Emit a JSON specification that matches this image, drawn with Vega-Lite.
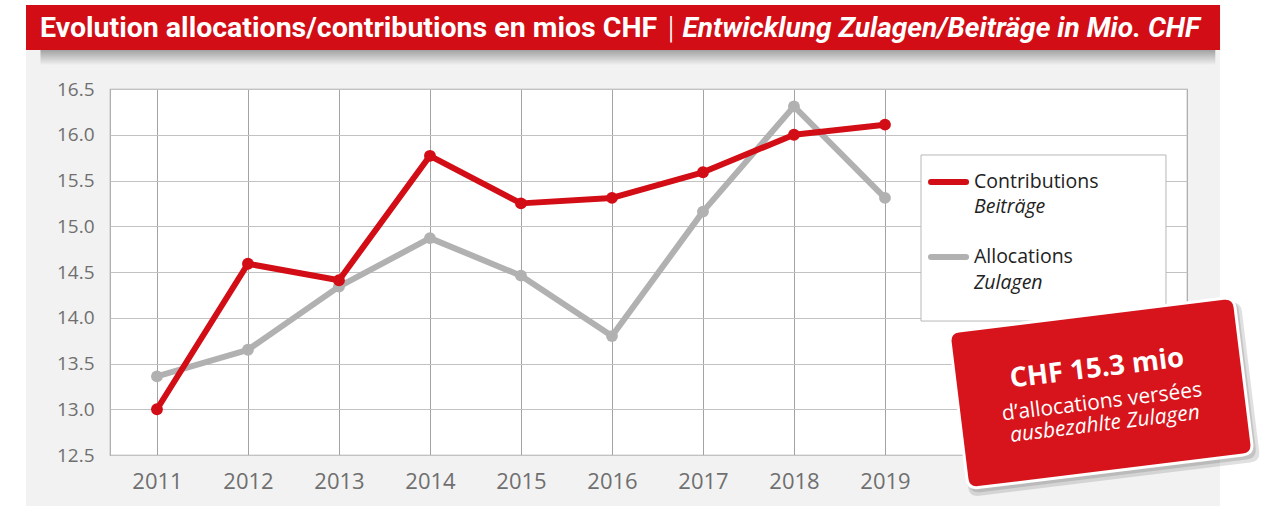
{
  "$schema": "https://vega.github.io/schema/vega-lite/v6.json",
  "autosize": {"type": "none"},
  "width": 1077,
  "height": 366,
  "padding": {"left": 110, "top": 89, "right": 74, "bottom": 51},
  "background": "#f2f2f2",
  "config": {"view": {"fill": "white", "stroke": "#a8a8a8", "strokeWidth": 1.2}, "font": "Open Sans"},
  "layer": [
    {
      "data": {"values": [{}]},
      "mark": {"type": "rect", "color": "white"},
      "encoding": {
        "x": {"datum": 2009.0, "type": "quantitative", "title": null},
        "x2": {"datum": 2009.561},
        "y": {"datum": 17.7, "type": "quantitative", "title": null},
        "y2": {"datum": 11.7}
      }
    },
    {
      "data": {"values": [{}]},
      "mark": {"type": "rect", "color": "white"},
      "encoding": {
        "x": {"datum": 2022.682, "type": "quantitative", "title": null},
        "x2": {"datum": 2023.5},
        "y": {"datum": 17.7, "type": "quantitative", "title": null},
        "y2": {"datum": 11.7}
      }
    },
    {
      "data": {"values": [{}]},
      "mark": {"type": "rect", "color": "white"},
      "encoding": {
        "x": {"datum": 2009.0, "type": "quantitative", "title": null},
        "x2": {"datum": 2023.5},
        "y": {"datum": 17.7, "type": "quantitative", "title": null},
        "y2": {"datum": 17.418}
      }
    },
    {
      "data": {"values": [{}]},
      "mark": {"type": "rect", "color": {"gradient": "linear", "x1": 0, "y1": 0, "x2": 0, "y2": 1, "stops": [{"offset": 0, "color": "#a0a0a0"}, {"offset": 1, "color": "#f2f2f2"}]}},
      "encoding": {
        "x": {"datum": 2009.72, "type": "quantitative", "title": null},
        "x2": {"datum": 2022.63},
        "y": {"datum": 16.93, "type": "quantitative", "title": null},
        "y2": {"datum": 16.76}
      }
    },
    {
      "data": {"values": [{}]},
      "mark": {"type": "rect", "color": "#d20d15"},
      "encoding": {
        "x": {"datum": 2009.561, "type": "quantitative", "title": null},
        "x2": {"datum": 2022.682},
        "y": {"datum": 17.418, "type": "quantitative", "title": null},
        "y2": {"datum": 16.926}
      }
    },
    {
      "data": {"values": [{}]},
      "mark": {"type": "text", "text": "Evolution allocations/contributions en mios CHF", "font": "Roboto", "fontWeight": "bold", "fontSize": 28.5, "color": "white", "align": "left", "baseline": "alphabetic"},
      "encoding": {
        "x": {"datum": 2009.715, "type": "quantitative", "title": null},
        "y": {"datum": 17.068, "type": "quantitative", "title": null}
      }
    },
    {
      "data": {"values": [{}]},
      "mark": {"type": "text", "text": "|", "font": "Roboto", "fontWeight": 300, "fontSize": 32, "color": "white", "align": "center", "baseline": "alphabetic"},
      "encoding": {
        "x": {"datum": 2016.65, "type": "quantitative", "title": null},
        "y": {"datum": 17.055, "type": "quantitative", "title": null}
      }
    },
    {
      "data": {"values": [{}]},
      "mark": {"type": "text", "text": "Entwicklung Zulagen/Beiträge in Mio. CHF", "font": "Roboto", "fontWeight": "bold", "fontStyle": "italic", "fontSize": 28.1, "color": "white", "align": "right", "baseline": "alphabetic"},
      "encoding": {
        "x": {"datum": 2022.462, "type": "quantitative", "title": null},
        "y": {"datum": 17.068, "type": "quantitative", "title": null}
      }
    },
    {
      "data": {
        "values": [
          {"year": 2011, "value": 13.36, "series": "Allocations"},
          {"year": 2012, "value": 13.65, "series": "Allocations"},
          {"year": 2013, "value": 14.34, "series": "Allocations"},
          {"year": 2014, "value": 14.87, "series": "Allocations"},
          {"year": 2015, "value": 14.46, "series": "Allocations"},
          {"year": 2016, "value": 13.8, "series": "Allocations"},
          {"year": 2017, "value": 15.16, "series": "Allocations"},
          {"year": 2018, "value": 16.31, "series": "Allocations"},
          {"year": 2019, "value": 15.31, "series": "Allocations"},
          {"year": 2011, "value": 13.0, "series": "Contributions"},
          {"year": 2012, "value": 14.59, "series": "Contributions"},
          {"year": 2013, "value": 14.41, "series": "Contributions"},
          {"year": 2014, "value": 15.77, "series": "Contributions"},
          {"year": 2015, "value": 15.25, "series": "Contributions"},
          {"year": 2016, "value": 15.31, "series": "Contributions"},
          {"year": 2017, "value": 15.59, "series": "Contributions"},
          {"year": 2018, "value": 16.0, "series": "Contributions"},
          {"year": 2019, "value": 16.11, "series": "Contributions"}
        ]
      },
      "mark": {"type": "line", "strokeWidth": 6, "strokeCap": "round", "strokeJoin": "round", "point": {"filled": true, "size": 140, "opacity": 1}},
      "encoding": {
        "x": {
          "field": "year", "type": "quantitative", "title": null,
          "scale": {"domain": [2010.484, 2022.319], "nice": false, "zero": false},
          "axis": {"values": [2011, 2012, 2013, 2014, 2015, 2016, 2017, 2018, 2019], "format": "d", "title": null, "domain": false, "ticks": false, "tickSize": 0, "labelPadding": 16, "labelFontSize": 22, "labelColor": "#6f6f6f", "labelFont": "Open Sans", "grid": true, "gridColor": "#a3a3a3", "labelFlush": false}
        },
        "y": {
          "field": "value", "type": "quantitative", "title": null,
          "scale": {"domain": [12.5, 16.5], "nice": false, "zero": false},
          "axis": {"values": [12.5, 13, 13.5, 14, 14.5, 15, 15.5, 16, 16.5], "format": ".1f", "title": null, "domain": false, "ticks": false, "tickSize": 0, "labelPadding": 16, "labelFontSize": 19, "labelColor": "#6f6f6f", "labelFont": "Open Sans", "grid": true, "gridColor": "#c2c2c2", "labelFlush": false}
        },
        "color": {"field": "series", "type": "nominal", "scale": {"domain": ["Allocations", "Contributions"], "range": ["#b1b1b1", "#d20d15"]}, "legend": null}
      }
    },
    {
      "data": {"values": [{}]},
      "mark": {"type": "rect", "fill": "white", "stroke": "#b8b8b8", "strokeWidth": 1},
      "encoding": {
        "x": {"datum": 2019.396, "type": "quantitative", "title": null},
        "x2": {"datum": 2022.088},
        "y": {"datum": 15.779, "type": "quantitative", "title": null},
        "y2": {"datum": 13.964}
      }
    },
    {
      "data": {"values": [{}]},
      "mark": {"type": "rule", "color": "#d20d15", "strokeWidth": 6, "strokeCap": "round"},
      "encoding": {
        "x": {"datum": 2019.506, "type": "quantitative", "title": null},
        "x2": {"datum": 2019.891},
        "y": {"datum": 15.484, "type": "quantitative", "title": null}
      }
    },
    {
      "data": {"values": [{}]},
      "mark": {"type": "rule", "color": "#b1b1b1", "strokeWidth": 6, "strokeCap": "round"},
      "encoding": {
        "x": {"datum": 2019.506, "type": "quantitative", "title": null},
        "x2": {"datum": 2019.891},
        "y": {"datum": 14.664, "type": "quantitative", "title": null}
      }
    },
    {
      "data": {"values": [{}]},
      "mark": {"type": "text", "text": "Contributions", "fontSize": 19.5, "color": "#222222", "align": "left", "baseline": "middle"},
      "encoding": {
        "x": {"datum": 2019.978, "type": "quantitative", "title": null},
        "y": {"datum": 15.484, "type": "quantitative", "title": null}
      }
    },
    {
      "data": {"values": [{}]},
      "mark": {"type": "text", "text": "Beiträge", "fontSize": 19.5, "fontStyle": "italic", "color": "#222222", "align": "left", "baseline": "middle"},
      "encoding": {
        "x": {"datum": 2019.978, "type": "quantitative", "title": null},
        "y": {"datum": 15.21, "type": "quantitative", "title": null}
      }
    },
    {
      "data": {"values": [{}]},
      "mark": {"type": "text", "text": "Allocations", "fontSize": 19.5, "color": "#222222", "align": "left", "baseline": "middle"},
      "encoding": {
        "x": {"datum": 2019.978, "type": "quantitative", "title": null},
        "y": {"datum": 14.664, "type": "quantitative", "title": null}
      }
    },
    {
      "data": {"values": [{}]},
      "mark": {"type": "text", "text": "Zulagen", "fontSize": 19.5, "fontStyle": "italic", "color": "#222222", "align": "left", "baseline": "middle"},
      "encoding": {
        "x": {"datum": 2019.978, "type": "quantitative", "title": null},
        "y": {"datum": 14.38, "type": "quantitative", "title": null}
      }
    },
    {
      "data": {"values": [{}]},
      "mark": {"type": "point", "shape": "M -0.93 -0.55 L 0.93 -0.55 Q 1 -0.55 1 -0.48 L 1 0.48 Q 1 0.55 0.93 0.55 L -0.93 0.55 Q -1 0.55 -1 0.48 L -1 -0.48 Q -1 -0.55 -0.93 -0.55 Z", "filled": true, "color": "#000000", "opacity": 0.12, "size": 86000, "angle": 353},
      "encoding": {
        "x": {"datum": 2021.418, "type": "quantitative", "title": null},
        "y": {"datum": 13.11, "type": "quantitative", "title": null}
      }
    },
    {
      "data": {"values": [{}]},
      "mark": {"type": "point", "shape": "M -0.93 -0.55 L 0.93 -0.55 Q 1 -0.55 1 -0.48 L 1 0.48 Q 1 0.55 0.93 0.55 L -0.93 0.55 Q -1 0.55 -1 0.48 L -1 -0.48 Q -1 -0.55 -0.93 -0.55 Z", "filled": true, "color": "#000000", "opacity": 0.12, "size": 83500, "angle": 353},
      "encoding": {
        "x": {"datum": 2021.405, "type": "quantitative", "title": null},
        "y": {"datum": 13.135, "type": "quantitative", "title": null}
      }
    },
    {
      "data": {"values": [{}]},
      "mark": {"type": "point", "shape": "M -0.93 -0.55 L 0.93 -0.55 Q 1 -0.55 1 -0.48 L 1 0.48 Q 1 0.55 0.93 0.55 L -0.93 0.55 Q -1 0.55 -1 0.48 L -1 -0.48 Q -1 -0.55 -0.93 -0.55 Z", "filled": true, "fill": "#d7141c", "stroke": "white", "strokeWidth": 3, "opacity": 1, "size": 82369, "angle": 353},
      "encoding": {
        "x": {"datum": 2021.374, "type": "quantitative", "title": null},
        "y": {"datum": 13.178, "type": "quantitative", "title": null}
      }
    },
    {
      "data": {"values": [{}]},
      "mark": {"type": "text", "text": "CHF 15.3 mio", "fontSize": 27.5, "fontWeight": "bold", "color": "white", "align": "center", "baseline": "middle", "angle": 353},
      "encoding": {
        "x": {"datum": 2021.33, "type": "quantitative", "title": null},
        "y": {"datum": 13.44, "type": "quantitative", "title": null}
      }
    },
    {
      "data": {"values": [{}]},
      "mark": {"type": "text", "text": "d’allocations versées", "fontSize": 21, "color": "white", "align": "center", "baseline": "middle", "angle": 353},
      "encoding": {
        "x": {"datum": 2021.385, "type": "quantitative", "title": null},
        "y": {"datum": 13.075, "type": "quantitative", "title": null}
      }
    },
    {
      "data": {"values": [{}]},
      "mark": {"type": "text", "text": "ausbezahlte Zulagen", "fontSize": 21, "fontStyle": "italic", "color": "white", "align": "center", "baseline": "middle", "angle": 353},
      "encoding": {
        "x": {"datum": 2021.418, "type": "quantitative", "title": null},
        "y": {"datum": 12.835, "type": "quantitative", "title": null}
      }
    }
  ]
}
